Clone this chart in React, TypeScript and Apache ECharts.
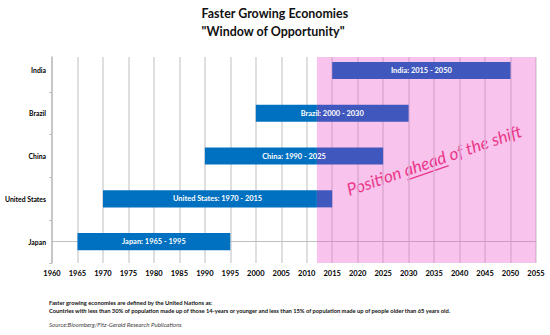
import React, { useEffect, useRef } from 'react';
import * as echarts from 'echarts';

// ---- data ----
const countries = ['Japan', 'United States', 'China', 'Brazil', 'India'];
const startYears = [1965, 1970, 1990, 2000, 2015];
const endYears = [1995, 2015, 2025, 2030, 2050];
const shiftYear = 2012;
const axisMinYear = 1960;
const axisMaxYear = 2055;
const yearStep = 5;

const titleLines = ['Faster Growing Economies', '"Window of Opportunity"'];
const noteLines = [
  'Faster growing economies are defined by the United Nations as:',
  'Countries with less than 30% of population made up of those 14-years or younger and less than 15% of population made up of people older than 65 years old.',
];
const sourceLine = 'Source:Bloomberg/Fitz-Gerald Research Publications';
const annotationParts = ['Position ', 'ahead', ' of the shift'];

const FONT = 'Lato';
const BLUE = '#0070C0';
const BLUE_IN_PINK = '#4057BE';
const PINK = 'rgba(236,95,209,0.37)';
const RED = '#EA1C5C';

let ctx: CanvasRenderingContext2D | null = null;
function measure(text: string, size: number, weight = 'normal', style = 'normal', family = FONT) {
  if (!ctx) ctx = document.createElement('canvas').getContext('2d');
  if (!ctx) return text.length * size * 0.5;
  ctx.font = `${style} ${weight} ${size}px "${family}"`;
  return ctx.measureText(text).width;
}
function fit(text: string, target: number, weight = 'normal', style = 'normal', family = FONT) {
  return (20 * target) / measure(text, 20, weight, style, family);
}

export default function App() {
  const ref = useRef<HTMLDivElement>(null);

  useEffect(() => {
    if (!ref.current) return;
    const chart = echarts.init(ref.current, undefined, { renderer: 'svg' });

    const t1 = fit(titleLines[0], 147, 'bold');
    const barFont = fit('India: 2015 - 2050', 61, 'bold');
    const yFont = fit('United States', 41, 'bold');
    const n1 = fit(noteLines[0], 164, 'bold');
    const n2 = fit(noteLines[1], 403, 'bold');
    const sFont = fit(sourceLine, 133, 'normal', 'italic');
    const full = annotationParts.join('');
    const aFont = fit(full, 184, 'normal', 'italic');
    const uStart = measure(annotationParts[0], aFont, 'normal', 'italic');
    const uEnd = measure(annotationParts[0] + annotationParts[1], aFont, 'normal', 'italic');

    const data = countries.map((c, i) => [i, startYears[i], endYears[i]]);

    const option: any = {
      animation: false,
      grid: { left: 52, right: 14, top: 57, bottom: 72 },
      xAxis: {
        type: 'value',
        min: axisMinYear,
        max: axisMaxYear,
        interval: yearStep,
        axisLine: { show: true, lineStyle: { color: '#BFBFBF', width: 1 } },
        axisTick: { show: false },
        axisLabel: {
          formatter: (v: number) => String(v),
          fontFamily: FONT,
          fontWeight: 'bold',
          fontSize: 7.5,
          color: '#000',
          margin: 6,
        },
        splitLine: { show: true, lineStyle: { color: '#D4D4D4', width: 1.5 } },
      },
      yAxis: {
        type: 'value',
        min: -0.5,
        max: 4.315,
        axisLine: { show: true, lineStyle: { color: '#BFBFBF', width: 1.5 } },
        axisTick: {
          show: true,
          length: 3,
          customValues: [-0.5, 0.5, 1.5, 2.5, 3.5],
          lineStyle: { color: '#BFBFBF' },
        },
        axisLabel: {
          customValues: [0, 1, 2, 3, 4],
          formatter: (v: number) => countries[Math.round(v)] ?? '',
          fontFamily: FONT,
          fontWeight: 'bold',
          fontSize: yFont,
          color: '#000',
          margin: 6,
        },
        splitLine: { show: false },
      },
      series: [
        {
          type: 'custom',
          z: 5,
          encode: { x: [1, 2], y: 0 },
          data,
          renderItem: (params: any, api: any) => {
            const i = params.dataIndex;
            const yi = api.value(0);
            const s = api.value(1);
            const e = api.value(2);
            const p0 = api.coord([s, yi]);
            const p1 = api.coord([e, yi]);
            const ps = api.coord([shiftYear, yi]);
            const h = api.size([0, 1])[1] * 0.4;
            const children: any[] = [];
            const blueEnd = Math.min(p1[0], ps[0]);
            if (blueEnd > p0[0]) {
              children.push({
                type: 'rect',
                shape: { x: p0[0], y: p0[1] - h / 2, width: blueEnd - p0[0], height: h },
                style: { fill: BLUE },
              });
            }
            const pinkStart = Math.max(p0[0], ps[0]);
            if (p1[0] > pinkStart) {
              children.push({
                type: 'rect',
                shape: { x: pinkStart, y: p0[1] - h / 2, width: p1[0] - pinkStart, height: h },
                style: { fill: BLUE_IN_PINK },
              });
            }
            children.push({
              type: 'text',
              style: {
                text: `${countries[i]}: ${startYears[i]} - ${endYears[i]}`,
                x: (p0[0] + p1[0]) / 2,
                y: p0[1],
                align: 'center',
                verticalAlign: 'middle',
                fill: '#fff',
                fontFamily: FONT,
                fontWeight: 'bold',
                fontSize: barFont,
              },
            });
            return { type: 'group', children };
          },
        },
        {
          type: 'line',
          z: 2,
          data: [],
          markArea: {
            silent: true,
            itemStyle: { color: PINK },
            data: [[{ xAxis: shiftYear, yAxis: -0.5 }, { xAxis: axisMaxYear, yAxis: 4.315 }]],
          },
        },
      ],
      graphic: [
        {
          type: 'text',
          left: 'center',
          top: 4,
          style: {
            text: titleLines.join('\n'),
            fontFamily: FONT,
            fontWeight: 'bold',
            fontSize: t1,
            lineHeight: 18,
            fill: '#111',
            align: 'center',
          },
        },
        {
          type: 'text',
          x: 49,
          y: 302,
          style: {
            text: noteLines[0],
            fontFamily: FONT,
            fontWeight: 'bold',
            fontSize: n1,
            fill: '#111',
            verticalAlign: 'middle',
          },
        },
        {
          type: 'text',
          x: 49,
          y: 310,
          style: {
            text: noteLines[1],
            fontFamily: FONT,
            fontWeight: 'bold',
            fontSize: n2,
            fill: '#111',
            verticalAlign: 'middle',
          },
        },
        {
          type: 'text',
          x: 49,
          y: 324,
          style: {
            text: sourceLine,
            fontFamily: FONT,
            fontStyle: 'italic',
            fontSize: sFont,
            fill: '#444',
            verticalAlign: 'middle',
          },
        },
        {
          type: 'group',
          x: 350,
          y: 198,
          rotation: (19 * Math.PI) / 180,
          z: 50,
          children: [
            {
              type: 'text',
              x: 0,
              y: 0,
              style: {
                text: full,
                fontFamily: FONT,
                fontStyle: 'italic',
                fontSize: aFont,
                fill: RED,
                verticalAlign: 'bottom',
              },
            },
            {
              type: 'line',
              shape: { x1: uStart, y1: 1.5, x2: uEnd, y2: 1.5 },
              style: { stroke: RED, lineWidth: 1.3 },
            },
          ],
        },
      ],
    };

    chart.setOption(option);
    return () => chart.dispose();
  }, []);

  return (
    <div
      ref={ref}
      style={{ position: 'fixed', left: 0, top: 0, width: 550, height: 335, background: '#fff' }}
    />
  );
}
